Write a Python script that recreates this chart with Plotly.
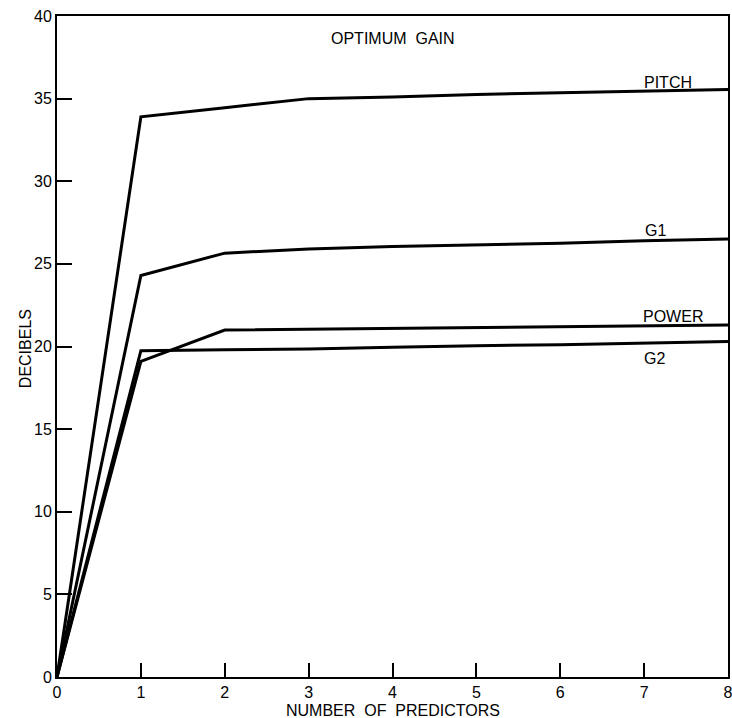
import plotly.graph_objects as go

predictors = [0, 1, 2, 3, 4, 5, 6, 7, 8]
pitch = [0, 33.9, 34.45, 35.0, 35.1, 35.25, 35.35, 35.45, 35.55]
g1 = [0, 24.3, 25.65, 25.9, 26.05, 26.15, 26.25, 26.4, 26.5]
power = [0, 19.1, 21.0, 21.05, 21.1, 21.15, 21.2, 21.25, 21.3]
g2 = [0, 19.75, 19.8, 19.85, 19.95, 20.05, 20.1, 20.2, 20.3]

series_names = ["PITCH", "G1", "POWER", "G2"]
series_values = [pitch, g1, power, g2]
label_x = [7.29, 7.14, 7.34, 7.12]
label_y = [35.95, 27.0, 21.8, 19.3]

x_ticks = [0, 1, 2, 3, 4, 5, 6, 7, 8]
y_ticks = [0, 5, 10, 15, 20, 25, 30, 35, 40]

FONT = "Liberation Sans, Arial, Helvetica, sans-serif"
FS = 16

fig = go.Figure()
for name, vals in zip(series_names, series_values):
    fig.add_trace(go.Scatter(x=predictors, y=vals, mode="lines", name=name,
                             line=dict(color="black", width=3),
                             showlegend=False, hoverinfo="skip"))

for name, lx, ly in zip(series_names, label_x, label_y):
    fig.add_annotation(x=lx, y=ly, xref="x", yref="y", text=name,
                       showarrow=False, font=dict(size=FS, color="black", family=FONT))

fig.add_annotation(x=4.0, y=38.65, xref="x", yref="y", text="OPTIMUM  GAIN",
                   showarrow=False, font=dict(size=FS, color="black", family=FONT))

fig.add_annotation(x=0.5, y=-0.0514, xref="paper", yref="paper",
                   text="NUMBER  OF  PREDICTORS", showarrow=False, yanchor="middle",
                   font=dict(size=FS, color="black", family=FONT))
fig.add_annotation(x=-0.0633, y=0.496, xref="paper", yref="paper",
                   text="DECIBELS", showarrow=False, textangle=-90,
                   font=dict(size=FS, color="black", family=FONT))

fig.update_xaxes(range=[0, 8], tickvals=x_ticks, ticks="inside", ticklen=14,
                 tickwidth=2, tickcolor="black", showline=True, linewidth=2,
                 linecolor="black", mirror=True, showgrid=False, zeroline=False,
                 automargin=False, ticklabeloverflow="allow",
                 tickfont=dict(size=FS, color="black", family=FONT))
fig.update_yaxes(range=[0, 40], tickvals=y_ticks, ticks="inside", ticklen=15,
                 tickwidth=2, tickcolor="black", showline=True, linewidth=2,
                 linecolor="black", mirror=True, showgrid=False, zeroline=False,
                 automargin=False, ticklabeloverflow="allow",
                 tickfont=dict(size=FS, color="black", family=FONT))

fig.update_layout(width=732, height=718, plot_bgcolor="white", paper_bgcolor="white",
                  margin=dict(l=57, r=4, t=16, b=41), showlegend=False,
                  font=dict(family=FONT, color="black"))

fig.write_html("out.html", config={"displayModeBar": False},
               post_script="document.body.style.margin='0';document.body.style.overflow='hidden';")
